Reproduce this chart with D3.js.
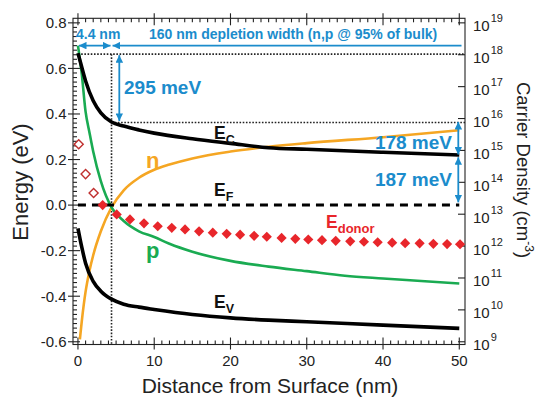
<!DOCTYPE html>
<html><head><meta charset="utf-8">
<script src="https://cdn.jsdelivr.net/npm/d3@7/dist/d3.min.js"></script>
<style>body{margin:0;background:#fff;} svg{display:block;font-family:Arial,"Liberation Sans",sans-serif;}</style>
</head><body><svg id="c" width="537" height="398"></svg>
<script>
// ---- data ----
const ecX = [0, 0.3, 1, 2, 3, 4.4, 6, 8, 10, 15, 20, 25, 30, 40, 50];
const ecY = [0.667, 0.63, 0.545, 0.458, 0.405, 0.365, 0.347, 0.33, 0.316, 0.291, 0.271, 0.252, 0.245, 0.232, 0.22];
const evX = [0, 0.5, 1, 2, 3, 4.4, 6, 8, 10, 15, 20, 25, 30, 40, 50];
const evY = [-0.102, -0.185, -0.255, -0.335, -0.378, -0.413, -0.435, -0.448, -0.458, -0.48, -0.495, -0.505, -0.512, -0.527, -0.541];
const nX = [0.25, 0.5, 1, 1.5, 2, 3, 4.4, 6, 8, 10, 12, 15, 20, 25, 30, 40, 50];
const nY = [-0.59, -0.51, -0.38, -0.29, -0.22, -0.115, -0.01, 0.065, 0.12, 0.155, 0.178, 0.205, 0.235, 0.256, 0.272, 0.298, 0.329];
const pX = [0, 0.5, 1, 1.5, 2, 3, 4.4, 6, 8, 10, 12, 15, 20, 25, 30, 35, 40, 45, 50];
const pY = [0.70, 0.575, 0.41, 0.32, 0.235, 0.105, -0.01, -0.07, -0.115, -0.14, -0.17, -0.205, -0.245, -0.27, -0.29, -0.31, -0.322, -0.333, -0.344];
const donorX = [0.1, 1.0, 2.05, 3.24, 5.08, 6.82, 8.66, 10.46, 12.3, 14.04, 15.88, 17.68, 19.5, 21.26, 23.1, 24.76, 26.7, 28.5, 30.2, 32.0, 33.8, 35.7, 37.5, 39.3, 41.2, 42.9, 44.8, 46.6, 48.4, 50.1];
const donorY = [0.267, 0.136, 0.053, 0.0, -0.041, -0.063, -0.08, -0.093, -0.100, -0.107, -0.115, -0.121, -0.126, -0.130, -0.135, -0.139, -0.144, -0.148, -0.151, -0.154, -0.157, -0.159, -0.161, -0.163, -0.165, -0.167, -0.168, -0.170, -0.171, -0.172];
const efX = [0, 50];
const efY = [0, 0];
const xTicks = [0, 10, 20, 30, 40, 50];
const yTicks = [-0.6, -0.4, -0.2, 0.0, 0.2, 0.4, 0.6, 0.8];
const rightExps = [9, 10, 11, 12, 13, 14, 15, 16, 17, 18, 19];
// annotation values
const depX = 4.4, ecTop = 0.667, ecAtDep = 0.365, arrowY = 0.70;
const depText = "160 nm depletion width (n,p @ 95% of bulk)";

// ---- scales ----
const svg = d3.select("#c");
const L = 73, R = 465, T = 18.3, B = 344.5;
const x = d3.scaleLinear().domain([-0.65, 50.75]).range([L, R]);
const y = d3.scaleLinear().domain([-0.612, 0.82]).range([B, T]);
const yR = d3.scaleLog().domain([1e9, 1e19]).range([y(-0.6), y(0.8)]);

const BLUE = "#1b8ccc", ORANGE = "#f5a623", GREEN = "#1aab52", RED = "#e8262b", DRED = "#c0302f";

svg.append("defs").html(`
 <clipPath id="clip"><rect x="${L}" y="${T}" width="${R-L}" height="${B-T}"/></clipPath>
 <marker id="ah" viewBox="0 0 10 10" refX="10" refY="5" markerWidth="4.2" markerHeight="4.2" orient="auto-start-reverse" markerUnits="strokeWidth"><path d="M0,0 L10,5 L0,10 z" fill="${BLUE}"/></marker>`);

// ---- frame & ticks ----
const ax = svg.append("g").attr("stroke", "#222").attr("stroke-width", 1.1);
ax.append("rect").attr("x", L).attr("y", T).attr("width", R - L).attr("height", B - T).attr("fill", "none");
const xMinor = d3.range(0, 51, 1);
xMinor.forEach(v => {
  const major = v % 10 === 0;
  ax.append("line").attr("x1", x(v)).attr("x2", x(v)).attr("y1", B + (major ? 5 : 0)).attr("y2", B - (major ? 7 : 4));
  ax.append("line").attr("x1", x(v)).attr("x2", x(v)).attr("y1", T - (major ? 5 : 0)).attr("y2", T + (major ? 7 : 4));
});
d3.range(-30, 41, 1).forEach(k => {
  const v = k * 0.02;
  const major = k % 10 === 0;
  ax.append("line").attr("x1", L - (major ? 5 : 0)).attr("x2", L + (major ? 7 : 4)).attr("y1", y(v)).attr("y2", y(v));
});
rightExps.forEach(e => {
  ax.append("line").attr("x1", R - 7).attr("x2", R).attr("y1", yR(Math.pow(10, e))).attr("y2", yR(Math.pow(10, e)));
});

// tick labels
svg.append("g").selectAll("text").data(xTicks).join("text")
  .attr("x", d => x(d)).attr("y", 366).attr("text-anchor", "middle")
  .attr("font-size", 15).attr("fill", "#222").text(d => d);
svg.append("g").selectAll("text").data(yTicks).join("text")
  .attr("x", 66.5).attr("y", d => y(d) + 5.3).attr("text-anchor", "end")
  .attr("font-size", 15).attr("fill", "#222").text(d => d3.format(".1f")(d).replace("−", "-"));
const rt = svg.append("g").selectAll("text").data(rightExps).join("text")
  .attr("x", 473).attr("y", d => yR(Math.pow(10, d)) + 8.5)
  .attr("font-size", 15).attr("fill", "#222");
rt.append("tspan").text("10");
rt.append("tspan").attr("font-size", 11).attr("dy", -9).attr("dx", 1).text(d => d);

// axis titles
svg.append("text").attr("transform", `translate(${270},${393}) `).attr("text-anchor", "middle")
  .attr("font-size", 21).attr("fill", "#222").text("Distance from Surface (nm)");
svg.append("text").attr("transform", `translate(28,${182}) rotate(-90)`).attr("text-anchor", "middle")
  .attr("font-size", 22).attr("fill", "#222").text("Energy (eV)");
const rl = svg.append("text").attr("transform", `translate(517,${170}) rotate(90)`).attr("text-anchor", "middle")
  .attr("font-size", 18.5).attr("fill", "#222");
rl.append("tspan").text("Carrier Density (cm");
rl.append("tspan").attr("font-size", 12).attr("dy", -8).text("-3");
rl.append("tspan").attr("dy", 8).text(")");

// ---- dotted guide lines ----
const dot = svg.append("g").attr("stroke", "#222").attr("stroke-width", 1.6).attr("stroke-dasharray", "1.6,1.6").attr("fill", "none");
dot.append("line").attr("x1", x(0)).attr("x2", R).attr("y1", y(ecTop) + 1).attr("y2", y(ecTop) + 1);
dot.append("line").attr("x1", x(depX)).attr("x2", x(depX)).attr("y1", y(ecTop) + 1).attr("y2", B);
dot.append("line").attr("x1", x(depX)).attr("x2", R).attr("y1", y(ecAtDep) + 0.5).attr("y2", y(ecAtDep) + 0.5);

// ---- curves ----
const line = (xs, ys) => d3.line().curve(d3.curveMonotoneX)(xs.map((v, i) => [x(v), y(ys[i])]));
const g = svg.append("g").attr("clip-path", "url(#clip)").attr("fill", "none");
g.append("path").attr("d", line(nX, nY)).attr("stroke", ORANGE).attr("stroke-width", 2.6);
g.append("path").attr("d", line(pX, pY)).attr("stroke", GREEN).attr("stroke-width", 2.6);
g.append("path").attr("d", line(ecX, ecY)).attr("stroke", "#000").attr("stroke-width", 3.6);
g.append("path").attr("d", line(evX, evY)).attr("stroke", "#000").attr("stroke-width", 3.6);
g.append("path").attr("d", line(efX, efY)).attr("stroke", "#000").attr("stroke-width", 3).attr("stroke-dasharray", "8,6");

// donor diamonds
const dg = svg.append("g");
donorX.forEach((v, i) => {
  const hollow = donorY[i] > 0.01;
  const s = hollow ? 6.4 : 7.2;
  dg.append("rect").attr("x", -s / 2).attr("y", -s / 2).attr("width", s).attr("height", s)
    .attr("transform", `translate(${x(v)},${y(donorY[i])}) rotate(45)`)
    .attr("fill", hollow ? "#fff" : RED).attr("stroke", hollow ? DRED : "none").attr("stroke-width", 1.4);
});

// ---- blue annotations ----
const an = svg.append("g").attr("stroke", BLUE).attr("stroke-width", 1.8).attr("fill", "none");
an.append("line").attr("x1", x(0) + 1).attr("x2", x(depX) - 1).attr("y1", y(arrowY)).attr("y2", y(arrowY))
  .attr("marker-start", "url(#ah)").attr("marker-end", "url(#ah)");
an.append("line").attr("x1", x(depX) + 1).attr("x2", 461.5).attr("y1", y(arrowY)).attr("y2", y(arrowY))
  .attr("marker-start", "url(#ah)");
an.append("line").attr("x1", 119.3).attr("x2", 119.3).attr("y1", y(ecTop) + 2).attr("y2", y(ecAtDep) - 1)
  .attr("marker-start", "url(#ah)").attr("marker-end", "url(#ah)");
an.append("line").attr("x1", 458.3).attr("x2", 458.3).attr("y1", y(ecAtDep)).attr("y2", y(0.222))
  .attr("marker-start", "url(#ah)").attr("marker-end", "url(#ah)");
an.append("line").attr("x1", 458.3).attr("x2", 458.3).attr("y1", y(0.21)).attr("y2", y(0.012))
  .attr("marker-start", "url(#ah)").attr("marker-end", "url(#ah)");

const bt = svg.append("g").attr("fill", BLUE).attr("font-weight", "bold");
bt.append("text").attr("x", 76).attr("y", 39).attr("font-size", 14).text("4.4 nm");
bt.append("text").attr("x", 149).attr("y", 39).attr("font-size", 14).text(depText);
bt.append("text").attr("x", 124).attr("y", 94).attr("font-size", 19).text("295 meV");
bt.append("text").attr("x", 452).attr("y", 148.5).attr("font-size", 19).attr("text-anchor", "end").text("178 meV");
bt.append("text").attr("x", 452).attr("y", 185.5).attr("font-size", 19).attr("text-anchor", "end").text("187 meV");

// ---- curve labels ----
const lab = (xp, yp, main, sub, color, fs, sfs) => {
  const t = svg.append("text").attr("x", xp).attr("y", yp).attr("font-weight", "bold").attr("fill", color).attr("font-size", fs);
  t.append("tspan").text(main);
  if (sub) t.append("tspan").attr("font-size", sfs).attr("dy", 5).text(sub);
};
lab(214, 139, "E", "C", "#111", 17.5, 12.5);
lab(214, 196, "E", "F", "#111", 17.5, 12.5);
lab(214, 308, "E", "V", "#111", 17.5, 12.5);
lab(326, 228, "E", "donor", RED, 17.5, 13);
lab(146, 168, "n", null, ORANGE, 22);
lab(146, 258, "p", null, GREEN, 22);
</script></body></html>
